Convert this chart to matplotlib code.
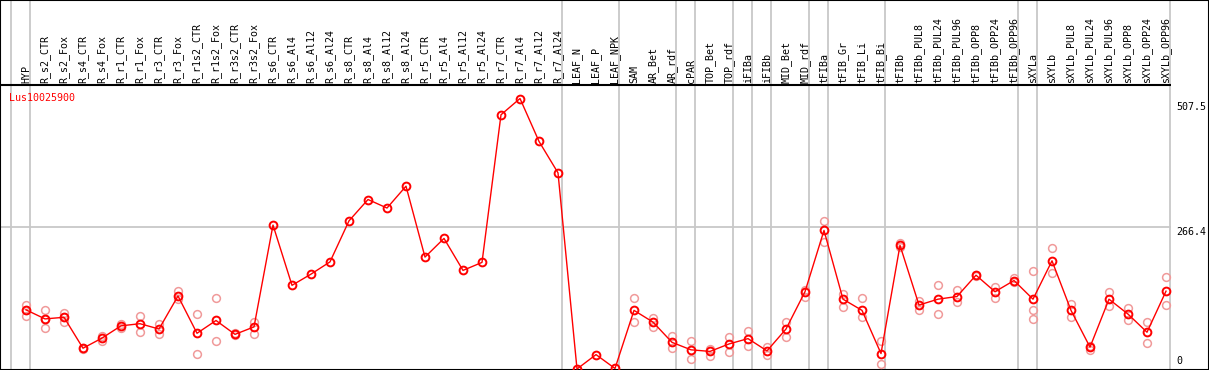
import matplotlib.pyplot as plt

samples = [
    "HYP", "R_s2_CTR", "R_s2_Fox", "R_s4_CTR", "R_s4_Fox", "R_r1_CTR", "R_r1_Fox",
    "R_r3_CTR", "R_r3_Fox", "R_r1s2_CTR", "R_r1s2_Fox", "R_r3s2_CTR", "R_r3s2_Fox",
    "R_s6_CTR", "R_s6_Al4", "R_s6_Al12", "R_s6_Al24", "R_s8_CTR", "R_s8_Al4",
    "R_s8_Al12", "R_s8_Al24", "R_r5_CTR", "R_r5_Al4", "R_r5_Al12", "R_r5_Al24",
    "R_r7_CTR", "R_r7_Al4", "R_r7_Al12", "R_r7_Al24", "LEAF_N", "LEAF_P", "LEAF_NPK",
    "SAM", "AR_Bet", "AR_rdf", "cPAR", "TOP_Bet", "TOP_rdf", "iFIBa", "iFIBb",
    "MID_Bet", "MID_rdf", "tFIBa", "tFIB_Gr", "tFIB_Li", "tFIB_Bi", "tFIBb",
    "tFIBb_PUL8", "tFIBb_PUL24", "tFIBb_PUL96", "tFIBb_OPP8", "tFIBb_OPP24",
    "tFIBb_OPP96", "sXYLa", "sXYLb", "sXYLb_PUL8", "sXYLb_PUL24", "sXYLb_PUL96",
    "sXYLb_OPP8", "sXYLb_OPP24", "sXYLb_OPP96",
]

mean_expr = [
    111, 94, 97, 39, 58, 81, 85, 75, 137, 67, 91, 65, 79,
    270, 157, 178, 201, 278, 318, 302, 343, 210, 245, 185, 200,
    477, 507.5, 427, 368, 0, 27, 1,
    110, 88, 50, 36, 33, 47, 57, 34, 75, 145,
    260, 131, 110, 29, 232, 120, 131, 136, 176, 145, 166,
    131, 203, 110, 41, 131, 103, 69, 146,
]

replicates = [
    [121, 100, 111], [111, 76, 94], [106, 88, 98], [37, 40], [62, 53],
    [84, 76], [99, 70], [84, 66], [147, 131], [104, 29], [133, 52],
    [68, 63], [89, 66],
    [], [], [], [], [], [], [], [], [], [], [], [], [], [], [], [],
    [], [], [],
    [133, 89], [96, 79], [61, 40], [52, 18], [37, 24], [60, 31],
    [71, 44], [42, 26], [88, 60], [148, 136],
    [277, 239], [140, 116], [133, 97], [52, 9], [236, 229],
    [128, 111], [157, 104], [148, 125], [177, 175], [154, 133], [170, 164],
    [183, 110, 94], [227, 180], [122, 98], [43, 36], [144, 118],
    [114, 91], [88, 48], [172, 121],
]

# last column index of each sample group (separator drawn after it)
group_ends = [-1, 0, 28, 31, 34, 35, 37, 38, 39, 41, 42, 45, 52, 53, 60]

y_ticks = [0, 266.4, 507.5]
gene = "Lus10025900"

# pixel geometry of the original figure
W, H = 1209, 370
x0_px, dx_px = 26, 19.0          # first column centre, column step
y0_px, ymax_px = 369, 98.5       # pixel rows of 0 and of the max value
ppu = (y0_px - ymax_px) / max(mean_expr)


def xval(px):
    return (px - x0_px) / dx_px


def yval(py):
    return (y0_px - py) / ppu


mono = "DejaVu Sans Mono"
fs = 7.2

fig = plt.figure(figsize=(W / 100, H / 100), dpi=100)
ax = fig.add_axes([0, 0, 1, 1])
ax.set_xlim(xval(0), xval(W))
ax.set_ylim(yval(H), yval(0))
ax.set_xticks([])
ax.set_yticks([])
for sp in ax.spines.values():
    sp.set_color("black")
    sp.set_linewidth(1.5)

x_right = xval(1170.5)
for g in group_ends:
    ax.axvline(g + 0.21, color="#c8c8c8", lw=1.3, zorder=1)
ax.hlines(266.4, xval(0), x_right, color="#c8c8c8", lw=1.3, zorder=1)
ax.hlines(yval(85), xval(0), x_right, color="black", lw=1.5, zorder=2)

xs = list(range(len(samples)))
for i, reps in enumerate(replicates):
    if reps:
        ax.plot([i] * len(reps), reps, ls="none", marker="o", ms=5.6,
                mfc="none", mec="#f09a9a", mew=1.1, zorder=3)
ax.plot(xs, mean_expr, color="red", lw=1, marker="o", ms=5.6, mfc="none",
        mec="red", mew=1.4, zorder=4)

for i, name in enumerate(samples):
    ax.text(i, yval(83), name, rotation=90, ha="center", va="bottom",
            fontsize=fs, family=mono)

ax.text(xval(9), yval(97.5), gene, color="red", ha="left", va="center",
        fontsize=fs, family=mono)

offsets = {0: -7.5, 266.4: 4.5, 507.5: 8.5}
for v in y_ticks:
    label = "0" if v == 0 else f"{v:.1f}"
    ax.annotate(label, (xval(1176), v), xytext=(0, -offsets[v] * 0.72),
                textcoords="offset points", ha="left", va="center",
                fontsize=fs, family=mono)

fig.savefig("out.png", dpi=100)
